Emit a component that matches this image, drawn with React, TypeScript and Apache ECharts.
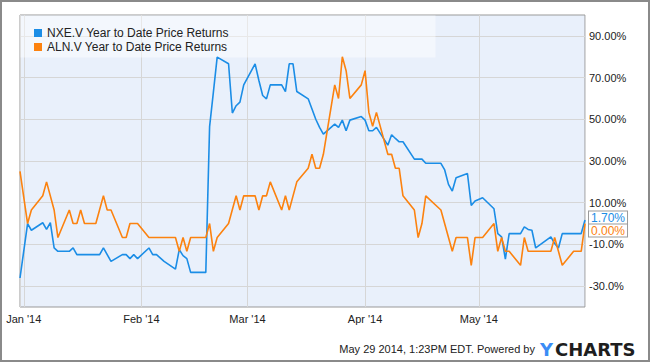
import React, { useEffect, useRef } from "react";
import * as echarts from "echarts";

const seriesNames = ["NXE.V Year to Date Price Returns", "ALN.V Year to Date Price Returns"];

const nxeDates = [
  "2013-12-31", "2014-01-02", "2014-01-03", "2014-01-06", "2014-01-07", "2014-01-08", "2014-01-09", "2014-01-10",
  "2014-01-13", "2014-01-14", "2014-01-15", "2014-01-21", "2014-01-22", "2014-01-24", "2014-01-27", "2014-01-28",
  "2014-01-29", "2014-01-30", "2014-01-31", "2014-02-03", "2014-02-04", "2014-02-05", "2014-02-07", "2014-02-10",
  "2014-02-11", "2014-02-12", "2014-02-13", "2014-02-14", "2014-02-18", "2014-02-19", "2014-02-20", "2014-02-21",
  "2014-02-24", "2014-02-25", "2014-02-26", "2014-02-27", "2014-02-28", "2014-03-03", "2014-03-04", "2014-03-05",
  "2014-03-06", "2014-03-07", "2014-03-10", "2014-03-11", "2014-03-12", "2014-03-13", "2014-03-14", "2014-03-17",
  "2014-03-18", "2014-03-19", "2014-03-20", "2014-03-21", "2014-03-24", "2014-03-25", "2014-03-26", "2014-03-27",
  "2014-03-28", "2014-03-31", "2014-04-01", "2014-04-02", "2014-04-03", "2014-04-04", "2014-04-07", "2014-04-08",
  "2014-04-09", "2014-04-10", "2014-04-11", "2014-04-14", "2014-04-15", "2014-04-16", "2014-04-17", "2014-04-21",
  "2014-04-22", "2014-04-23", "2014-04-24", "2014-04-25", "2014-04-28", "2014-04-29", "2014-04-30", "2014-05-02",
  "2014-05-05", "2014-05-06", "2014-05-07", "2014-05-08", "2014-05-09", "2014-05-12", "2014-05-13", "2014-05-14",
  "2014-05-15", "2014-05-16", "2014-05-20", "2014-05-21", "2014-05-22", "2014-05-23", "2014-05-26", "2014-05-27",
  "2014-05-28", "2014-05-29",
];
const nxeValues = [
  -26.1, 0.0, -3.2, 0.4, -2.8, 0.4, -11.7, -13.3,
  -13.3, -11.7, -14.9, -14.9, -11.7, -18.1, -14.9, -14.9,
  -16.8, -14.9, -16.8, -11.7, -14.9, -14.9, -18.1, -21.8,
  -12.5, -15.4, -16.8, -23.4, -23.4, 46.5, 63.0, 79.8,
  76.6, 53.0, 56.5, 58.2, 66.5, 76.6, 68.6, 61.4,
  59.8, 66.5, 66.5, 63.3, 76.6, 76.6, 63.3, 59.8,
  54.9, 50.0, 46.1, 42.9, 47.7, 46.1, 49.6, 44.5,
  49.6, 51.3, 49.6, 44.5, 44.5, 46.1, 37.6, 42.6,
  40.8, 39.2, 39.2, 30.9, 30.9, 30.9, 28.9, 28.9,
  25.7, 18.8, 15.6, 22.0, 24.0, 8.7, 10.8, 12.4,
  7.1, -4.8, -6.4, -17.0, -4.8, -4.8, -1.6, -2.8,
  -3.2, -11.7, -6.4, -9.6, -11.7, -4.8, -4.8, -4.8,
  -4.8, 1.7,
];

const alnDates = [
  "2013-12-31", "2014-01-02", "2014-01-03", "2014-01-06", "2014-01-07", "2014-01-09", "2014-01-10", "2014-01-13",
  "2014-01-14", "2014-01-15", "2014-01-16", "2014-01-17", "2014-01-20", "2014-01-22", "2014-01-23", "2014-01-24",
  "2014-01-27", "2014-01-28", "2014-01-29", "2014-01-31", "2014-02-03", "2014-02-10", "2014-02-11", "2014-02-12",
  "2014-02-13", "2014-02-14", "2014-02-18", "2014-02-19", "2014-02-20", "2014-02-21", "2014-02-24", "2014-02-26",
  "2014-02-27", "2014-02-28", "2014-03-03", "2014-03-04", "2014-03-05", "2014-03-06", "2014-03-07", "2014-03-10",
  "2014-03-11", "2014-03-12", "2014-03-14", "2014-03-17", "2014-03-18", "2014-03-19", "2014-03-20", "2014-03-21",
  "2014-03-24", "2014-03-25", "2014-03-26", "2014-03-27", "2014-03-28", "2014-03-31", "2014-04-01", "2014-04-02",
  "2014-04-03", "2014-04-04", "2014-04-07", "2014-04-08", "2014-04-09", "2014-04-10", "2014-04-11", "2014-04-14",
  "2014-04-15", "2014-04-16", "2014-04-17", "2014-04-21", "2014-04-24", "2014-04-25", "2014-04-28", "2014-04-29",
  "2014-04-30", "2014-05-02", "2014-05-05", "2014-05-06", "2014-05-07", "2014-05-08", "2014-05-09", "2014-05-12",
  "2014-05-13", "2014-05-14", "2014-05-20", "2014-05-21", "2014-05-22", "2014-05-23", "2014-05-26", "2014-05-28",
  "2014-05-29",
];
const alnValues = [
  25.0, 0.0, 6.5, 13.3, 20.0, 6.5, -6.7, 6.5,
  0.0, 0.0, 6.5, 0.0, 0.0, 13.3, 6.5, 6.5,
  -6.7, -6.7, 0.0, 0.0, -6.7, -6.7, -13.3, -6.7,
  -13.3, -6.7, -6.7, 0.0, -13.3, -6.7, 0.0, 13.3,
  6.5, 13.3, 13.3, 6.5, 13.3, 13.3, 20.0, 6.5,
  13.3, 6.5, 20.0, 26.5, 33.2, 26.5, 26.5, 33.2,
  66.5, 60.0, 80.0, 73.3, 60.0, 66.5, 73.3, 53.3,
  46.7, 53.3, 33.2, 33.2, 26.5, 26.5, 13.3, 6.5,
  -6.7, 0.0, 13.3, 6.5, -13.3, -6.7, -6.7, -20.0,
  -6.7, -6.7, 0.0, -13.3, -6.7, -13.3, -13.3, -20.0,
  -6.7, -13.3, -13.3, -6.7, -13.3, -20.0, -13.3, -13.3,
  0.0,
];

const monthLabels = ["Jan '14", "Feb '14", "Mar '14", "Apr '14", "May '14"];
const yTickValues = [-30, -10, 10, 30, 50, 70, 90];
const yTickLabels = ["-30.0%", "-10.0%", "10.00%", "30.00%", "50.00%", "70.00%", "90.00%"];
const footerText = "May 29 2014, 1:23PM EDT. Powered by";

const FONT = "'Liberation Sans', Arial, sans-serif";
const BLUE = "#1b8de6";
const ORANGE = "#fc820f";

function toTs(s: string): number {
  const [y, m, d] = s.split("-").map(Number);
  return new Date(y, m - 1, d).getTime();
}

export default function App() {
  const ref = useRef<HTMLDivElement>(null);
  useEffect(() => {
    if (!ref.current) return;
    const chart = echarts.init(ref.current, undefined, { renderer: "svg" });
    const option: any = {
      animation: false,
      backgroundColor: "#ffffff",
      textStyle: { fontFamily: FONT },
      grid: {
        left: 20,
        top: 15,
        right: 65,
        bottom: 55,
        show: true,
        backgroundColor: "#e9f0fb",
        borderColor: "#999999",
        borderWidth: 1,
      },
      legend: {
        show: true,
        orient: "vertical",
        left: 29,
        top: 22,
        itemGap: 2,
        itemWidth: 8,
        itemHeight: 8,
        icon: "rect",
        selectedMode: false,
        textStyle: { fontSize: 12, color: "#222", fontFamily: FONT },
        data: seriesNames,
        z: 5,
      },
      xAxis: {
        type: "time",
        min: toTs("2013-12-31"),
        max: toTs("2014-05-29"),
        splitNumber: 5,
        axisLine: { show: false },
        axisTick: { show: false },
        axisLabel: {
          fontSize: 11,
          color: "#222",
          margin: 6,
          hideOverlap: false,
          showMinLabel: false,
          showMaxLabel: false,
          formatter: (v: number) => {
            const d = new Date(v);
            return d.getDate() === 1 && d.getFullYear() === 2014 ? monthLabels[d.getMonth()] || "" : "";
          },
        },
        splitLine: { show: true, lineStyle: { color: "#d6d6d6", width: 1 } },
      },
      yAxis: {
        type: "value",
        position: "right",
        min: -40,
        max: 100,
        interval: 10,
        axisLine: { show: false },
        axisTick: { show: false },
        axisLabel: {
          fontSize: 11,
          color: "#222",
          margin: 4,
          formatter: (v: number) => {
            const i = yTickValues.indexOf(Math.round(v));
            return i >= 0 ? yTickLabels[i] : "";
          },
        },
        splitLine: {
          show: true,
          lineStyle: { color: ["rgba(0,0,0,0)", "#d6d6d6"], width: 1 },
        },
      },
      graphic: [
        {
          type: "rect",
          z: 1,
          silent: true,
          shape: { x: 20.5, y: 15.5, width: 415, height: 42 },
          style: { fill: "rgba(255,255,255,0.45)" },
        },
        {
          type: "rect",
          z: 10,
          silent: true,
          shape: { x: 1, y: 1, width: 648, height: 360 },
          style: { fill: "none", stroke: "#8a8a8a", lineWidth: 2 },
        },
        {
          type: "text",
          x: 535,
          y: 349,
          style: {
            text: footerText,
            fontSize: 11,
            fontFamily: FONT,
            fill: "#222",
            align: "right",
            verticalAlign: "middle",
          },
        },
        {
          type: "text",
          x: 540,
          y: 349,
          style: {
            text: "Y",
            fontSize: 18,
            fontWeight: "bold",
            fontFamily: "'DejaVu Sans', sans-serif",
            fill: "#3b8cf5",
            align: "left",
            verticalAlign: "middle",
          },
        },
        {
          type: "text",
          x: 555,
          y: 349,
          style: {
            text: "CHARTS",
            fontSize: 18,
            fontWeight: "bold",
            fontFamily: "'DejaVu Sans', sans-serif",
            fill: "#1e1e1e",
            align: "left",
            verticalAlign: "middle",
          },
        },
      ],
      series: [
        {
          name: seriesNames[0],
          type: "line",
          data: nxeDates.map((d, i) => [toTs(d), nxeValues[i]]),
          showSymbol: false,
          symbol: "none",
          lineStyle: { color: BLUE, width: 1.6 },
          itemStyle: { color: BLUE },
          z: 3,
          endLabel: {
            show: true,
            formatter: (p: any) => p.value[1].toFixed(2) + "%",
            color: BLUE,
            fontSize: 12,
            fontFamily: FONT,
            backgroundColor: "#ffffff",
            borderColor: "#9a9a9a",
            borderWidth: 1,
            padding: [1, 2, 0, 2],
            distance: 4,
            offset: [0, -2],
          },
        },
        {
          name: seriesNames[1],
          type: "line",
          data: alnDates.map((d, i) => [toTs(d), alnValues[i]]),
          showSymbol: false,
          symbol: "none",
          lineStyle: { color: ORANGE, width: 1.6 },
          itemStyle: { color: ORANGE },
          z: 4,
          endLabel: {
            show: true,
            formatter: (p: any) => p.value[1].toFixed(2) + "%",
            color: ORANGE,
            fontSize: 12,
            fontFamily: FONT,
            backgroundColor: "#ffffff",
            borderColor: "#9a9a9a",
            borderWidth: 1,
            padding: [0, 2, 0, 2],
            distance: 4,
            offset: [0, 7],
          },
        },
      ],
    };
    chart.setOption(option);
    return () => chart.dispose();
  }, []);
  return (
    <div
      ref={ref}
      style={{ position: "absolute", left: 0, top: 0, width: 650, height: 362 }}
    />
  );
}
